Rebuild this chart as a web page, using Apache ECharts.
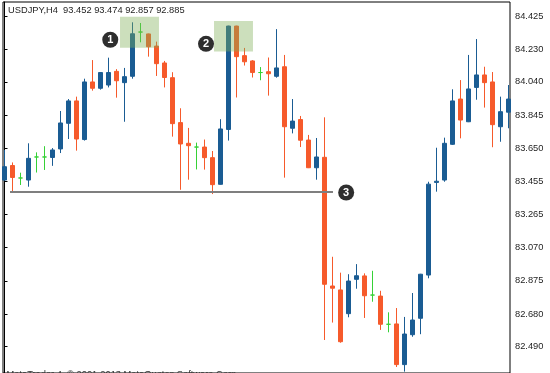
<!DOCTYPE html>
<html>
<head>
<meta charset="utf-8">
<script src="https://cdn.jsdelivr.net/npm/echarts@6/dist/echarts.min.js"></script>
<style>
html,body{margin:0;padding:0;background:#fff;}
#chart{width:550px;height:373px;}
</style>
</head>
<body>
<div id="chart"></div>
<script>
// ---- data ----
const symbolTitle = 'USDJPY,H4  93.452 93.474 92.857 92.885';
const footerText = 'MetaTrader 4, \u00A9 2001-2013 MetaQuotes Software Corp.';
const tickLabels = ['84.425','84.230','84.040','83.845','83.650','83.455','83.265','83.070','82.875','82.680','82.490'];

const opens = [83.465,83.550,83.477,83.465,83.600,83.600,83.597,83.647,83.797,83.928,
  83.702,84.039,84.002,84.021,84.101,84.035,84.072,84.331,84.320,84.249,
  84.150,84.064,83.801,83.680,83.658,83.658,83.596,83.440,83.761,84.366,
  84.193,84.162,84.094,84.099,84.072,84.128,83.768,83.819,83.699,83.537,
  83.598,82.845,82.822,82.683,82.884,82.904,82.792,82.786,82.621,82.623,
  82.385,82.560,82.656,82.909,83.451,83.465,83.674,83.939,83.806,84.007,
  84.080,84.039,83.777,83.862];
const closes = [83.543,83.480,83.477,83.592,83.600,83.600,83.641,83.799,83.928,83.705,
  84.039,84.002,84.094,84.094,84.046,84.070,84.321,84.331,84.245,84.146,
  84.065,83.795,83.676,83.666,83.658,83.596,83.438,83.764,84.366,84.187,
  84.157,84.094,84.094,84.087,84.121,83.777,83.810,83.698,83.537,83.600,
  82.855,82.832,82.519,82.874,82.905,82.788,82.792,82.621,82.621,82.385,
  82.564,82.646,82.914,83.441,83.458,83.680,83.928,83.816,83.998,84.080,
  84.035,83.789,83.865,83.939];
const lows = [83.463,83.397,83.436,83.426,83.509,83.524,83.548,83.623,83.705,83.637,
  83.696,83.988,83.994,84.007,83.947,83.806,84.058,84.271,84.187,84.074,
  84.007,83.719,83.408,83.467,83.527,83.526,83.383,83.438,83.696,83.948,
  84.135,84.065,84.049,83.959,84.064,83.479,83.738,83.658,83.535,83.467,
  82.529,82.631,82.513,82.662,82.829,82.658,82.753,82.588,82.574,82.371,
  82.344,82.548,82.563,82.890,83.397,83.455,83.670,83.709,83.804,83.935,
  83.889,83.657,83.689,83.768];
const highs = [83.641,83.568,83.508,83.680,83.627,83.663,83.652,83.869,83.939,83.953,
  84.058,84.167,84.097,84.181,84.114,84.121,84.388,84.384,84.322,84.275,
  84.162,84.096,83.885,83.770,83.684,83.702,83.635,83.821,84.368,84.368,
  84.238,84.167,84.126,84.182,84.348,84.197,83.939,83.840,83.729,83.711,
  83.832,83.016,82.923,82.914,82.973,82.919,82.934,82.817,82.691,82.716,
  82.664,82.804,82.916,83.455,83.654,83.713,83.996,84.050,84.197,84.290,
  84.128,84.097,83.953,84.021];
const supportLevel = 83.397;

// ---- build ----
const candles = opens.map((o, i) => [i, o, closes[i], lows[i], highs[i]]);
const tickValues = tickLabels.map(Number);

const BULL = '#1a5c93';
const BEAR = '#f65a2b';
const DOJI = '#36d136';
const FONT = '"Liberation Sans", Arial, sans-serif';

const chart = echarts.init(document.getElementById('chart'), null, {renderer: 'canvas'});
chart.setOption({
  animation: false,
  backgroundColor: '#ffffff',
  grid: {
    show: true, borderColor: '#000', borderWidth: 1,
    left: 3, right: 40, top: 2, bottom: 0
  },
  xAxis: {
    type: 'value', min: -0.1875, max: 63.1875,
    axisLine: {show: false}, axisTick: {show: false},
    axisLabel: {show: false}, splitLine: {show: false}
  },
  yAxis: {
    type: 'value', position: 'right', min: 82.3359, max: 84.5068, scale: true,
    axisLine: {show: true, lineStyle: {color: '#000', width: 1}},
    axisTick: {show: true, length: 3, inside: false, customValues: tickValues,
               lineStyle: {color: '#000'}},
    axisLabel: {
      customValues: tickValues,
      margin: 5, color: '#1e1e1e', fontSize: 9.3, fontFamily: FONT,
      formatter: v => tickLabels[tickValues.indexOf(v)] !== undefined
        ? tickLabels[tickValues.indexOf(v)] : v.toFixed(3)
    },
    splitLine: {show: false}
  },
  series: [{
    type: 'candlestick',
    data: candles,
    barWidth: 4,
    itemStyle: {
      color: BULL, color0: BEAR,
      borderColor: BULL, borderColor0: BEAR,
      borderColorDoji: DOJI, borderWidth: 1
    },
    markArea: {
      z: 3, silent: true,
      itemStyle: {color: 'rgba(128,176,88,0.40)', borderWidth: 0},
      data: [
        [{coord: [14.44, 84.421]}, {coord: [19.31, 84.239]}],
        [{coord: [26.19, 84.396]}, {coord: [31.06, 84.217]}]
      ]
    },
    markLine: {
      silent: true, symbol: ['none', 'none'],
      label: {show: false},
      lineStyle: {color: '#7f7f7f', width: 2, type: 'solid'},
      data: [[{coord: [0.69, supportLevel]}, {coord: [41.06, supportLevel]}]]
    },
    markPoint: {
      silent: true, symbol: 'circle', symbolSize: 16,
      itemStyle: {color: '#2e2e2e'},
      label: {show: true, position: 'inside', color: '#fff', fontWeight: 'bold',
              fontSize: 11, fontFamily: FONT, formatter: '{b}'},
      data: [
        {name: '1', coord: [13.22, 84.286]},
        {name: '2', coord: [25.19, 84.262]},
        {name: '3', coord: [42.71, 83.392]}
      ]
    }
  }],
  graphic: [
    {type: 'text', left: 8, top: 6, z: 10,
     style: {text: symbolTitle, fill: '#1e1e1e', font: '9.3px ' + FONT}},
    {type: 'text', x: 6.5, y: 369.5, z: 10,
     style: {text: footerText, fill: '#333', font: '9.3px ' + FONT, textVerticalAlign: 'top'}}
  ]
});
</script>
</body>
</html>
